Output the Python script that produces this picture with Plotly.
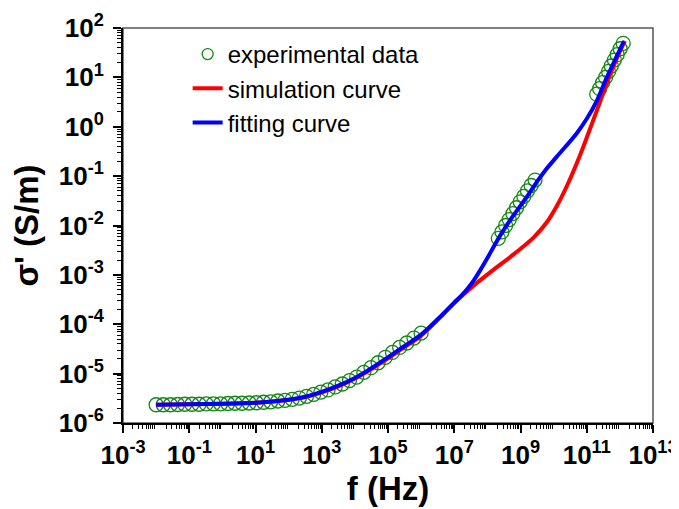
import plotly.graph_objects as go

# ---------------- data ----------------
exp_f = [
    1.00e-2, 1.645e-2, 2.707e-2, 4.45e-2, 7.33e-2, 0.1205, 0.198, 0.326, 0.537, 0.883,
    1.453, 2.39, 3.93, 6.47, 10.64, 17.5, 28.8, 47.4, 78.0, 128.3,
    211, 347, 571, 940, 1546, 2544, 4184, 6884, 11327, 18634,
    30660, 50440, 82980, 1.365e5, 2.246e5, 3.695e5, 6.08e5, 1.0e6,
    2.14e8, 2.75e8, 3.55e8, 4.57e8, 5.89e8, 7.59e8, 9.77e8, 1.26e9, 1.62e9, 2.09e9, 2.75e9,
    2.0e11, 2.45e11, 3.0e11, 3.7e11, 4.55e11, 5.5e11, 6.8e11, 8.3e11, 1.02e12, 1.26e12,
]
exp_sigma = [
    2.34e-6, 2.34e-6, 2.34e-6, 2.37e-6, 2.40e-6, 2.40e-6, 2.40e-6, 2.43e-6, 2.45e-6, 2.45e-6,
    2.48e-6, 2.51e-6, 2.51e-6, 2.54e-6, 2.57e-6, 2.63e-6, 2.69e-6, 2.79e-6, 2.88e-6, 3.02e-6,
    3.20e-6, 3.47e-6, 3.80e-6, 4.22e-6, 4.68e-6, 5.37e-6, 6.17e-6, 7.24e-6, 8.51e-6, 1.06e-5,
    1.32e-5, 1.66e-5, 2.14e-5, 2.69e-5, 3.39e-5, 4.17e-5, 5.25e-5, 6.61e-5,
    5.50e-3, 7.41e-3, 1.00e-2, 1.32e-2, 1.74e-2, 2.29e-2, 3.02e-2, 3.89e-2, 5.01e-2, 6.46e-2, 8.32e-2,
    4.57, 5.9, 7.8, 10.0, 13.2, 17.0, 22.4, 28.8, 38.0, 49.0,
]

sim_f = [
    1.0e-2, 1.0e-1, 1.0, 10, 31.6, 100, 316, 1000, 3162, 1e4, 3.16e4, 1e5, 3.16e5, 1e6,
    3.16e6, 1.0e7, 3.98e7, 1.58e8, 6.31e8, 2.51e9, 6.31e9, 1.26e10, 2.51e10, 6.31e10,
    1.26e11, 2.51e11, 5.01e11, 8.91e11, 1.41e12,
]
sim_sigma = [
    2.34e-6, 2.40e-6, 2.45e-6, 2.57e-6, 2.72e-6, 2.95e-6, 3.35e-6, 4.17e-6, 5.50e-6, 7.94e-6,
    1.24e-5, 2.04e-5, 3.47e-5, 5.89e-5,
    1.23e-4, 2.69e-4, 6.17e-4, 1.29e-3, 2.63e-3, 5.75e-3, 1.175e-2, 2.51e-2, 6.31e-2, 0.269,
    0.912, 3.16, 11.2, 28.2, 55.0,
]

fit_f = [
    1.0e-2, 1.0e-1, 1.0, 10, 31.6, 100, 316, 1000, 3162, 1e4, 3.16e4, 1e5, 3.16e5, 1e6,
    3.72e6, 1.0e7, 1.58e7, 2.51e7, 3.98e7, 6.31e7, 1.0e8, 1.58e8, 2.51e8, 6.03e8,
    1.55e9, 3.09e9, 5.50e9, 1.23e10, 5.01e10, 1.00e11, 2.00e11, 3.98e11, 7.94e11, 1.32e12,
]
fit_sigma = [
    2.34e-6, 2.40e-6, 2.45e-6, 2.57e-6, 2.72e-6, 2.95e-6, 3.39e-6, 4.27e-6, 5.69e-6, 8.13e-6,
    1.29e-5, 2.14e-5, 3.63e-5, 6.17e-5,
    1.41e-4, 2.75e-4, 3.72e-4, 5.25e-4, 7.94e-4, 1.29e-3, 2.19e-3, 3.80e-3, 6.46e-3, 1.58e-2,
    3.80e-2, 7.59e-2, 0.129, 0.245, 0.741, 1.45, 3.31, 9.77, 26.3, 53.7,
]

x_exponents = list(range(-3, 14))
y_exponents = list(range(-6, 3))
x_label_exponents = [k for k in x_exponents if k % 2]
x_unlabeled_exponents = [k for k in x_exponents if not k % 2]
x_tick_labels = ["10<sup>%d</sup>" % k for k in x_label_exponents]
y_tick_labels = ["10<sup>%d</sup>" % k for k in y_exponents]

# ---------------- figure ----------------
FONT = "Liberation Sans, Arial, sans-serif"
GREEN = "rgb(20,135,20)"

fig = go.Figure()
fig.add_trace(go.Scatter(
    x=exp_f, y=exp_sigma, mode="markers", showlegend=False,
    marker=dict(symbol="circle-open", size=14, color=GREEN, line=dict(width=1.3, color=GREEN)),
))
fig.add_trace(go.Scatter(
    x=[None], y=[None], mode="markers", name="experimental data",
    marker=dict(symbol="circle-open", size=11, color=GREEN, line=dict(width=1.3, color=GREEN)),
))
fig.add_trace(go.Scatter(
    x=sim_f, y=sim_sigma, mode="lines", name="simulation curve",
    line=dict(color="#FF0000", width=4, shape="spline", smoothing=1.0),
))
fig.add_trace(go.Scatter(
    x=fit_f, y=fit_sigma, mode="lines", name="fitting curve",
    line=dict(color="#0000FF", width=4, shape="spline", smoothing=1.0),
))

x_minor = [m * 10.0 ** k for k in range(-3, 13) for m in range(2, 10)]
y_minor = [m * 10.0 ** k for k in range(-6, 2) for m in range(2, 10)]

TICKFONT = dict(family=FONT, size=26, color="black", weight="bold")
TITLEFONT = dict(family=FONT, size=33, color="black", weight="bold")

axis_common = dict(
    type="log", showgrid=False, zeroline=False, automargin=False,
    showline=True, linecolor="black", linewidth=2,
    ticks="outside", ticklen=8, tickwidth=2, tickcolor="black",
    tickfont=TICKFONT, tickmode="array",
)

fig.update_layout(
    xaxis=dict(
        **axis_common,
        range=[-3, 13],
        tickvals=[10.0 ** k for k in x_label_exponents], ticktext=x_tick_labels,
        minor=dict(tickmode="array", tickvals=x_minor, ticks="outside", ticklen=4,
                   tickwidth=1, tickcolor="black", showgrid=False),
        title=dict(text="f (Hz)", font=TITLEFONT, standoff=4),
    ),
    xaxis2=dict(
        type="log", range=[-3, 13], overlaying="x", anchor="y", side="bottom",
        showgrid=False, zeroline=False, showline=False, automargin=False,
        tickmode="array", tickvals=[10.0 ** k for k in x_unlabeled_exponents],
        showticklabels=False, ticks="outside", ticklen=8, tickwidth=2, tickcolor="black",
    ),
    yaxis=dict(
        **axis_common,
        range=[-6, 2],
        tickvals=[10.0 ** k for k in y_exponents], ticktext=y_tick_labels,
        ticklabelstandoff=4,
        minor=dict(tickmode="array", tickvals=y_minor, ticks="outside", ticklen=4,
                   tickwidth=1, tickcolor="black", showgrid=False),
        title=dict(text="σ' (S/m)", font=TITLEFONT, standoff=12),
    ),
)

fig.add_shape(type="rect", xref="paper", yref="paper", x0=0, x1=1, y0=0, y1=1,
              line=dict(color="#555555", width=1.5), layer="below")

# The page body adds an 8 px offset, so the figure is 8 px smaller than the window.
fig.update_layout(
    width=671, height=501,
    margin=dict(l=115, r=26, t=20, b=86),
    paper_bgcolor="white", plot_bgcolor="white",
    font=dict(family=FONT, color="black"),
    legend=dict(x=0.122, y=0.99, xanchor="left", yanchor="top",
                bgcolor="rgba(0,0,0,0)", borderwidth=0,
                font=dict(family=FONT, size=24, color="black"),
                tracegroupgap=0, itemwidth=30),
)

fig.write_html("out.html")
